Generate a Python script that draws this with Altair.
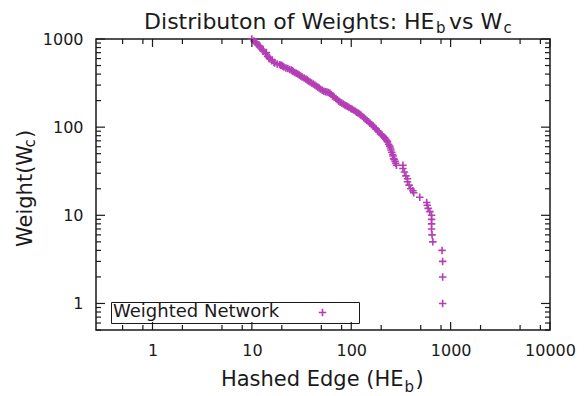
import altair as alt
import pandas as pd

# ---------------- data ----------------
hashed_edge = [10, 10.5, 11, 11, 11.5, 12, 12, 12.5, 13, 13, 13.7, 14, 14.4, 15, 15, 15.8, 16, 16.7,
               17, 18, 19, 19.5, 20, 20.5, 21, 22, 23, 24, 25, 25.5, 26, 27, 28, 29, 30, 31,
               32, 33.5, 35, 36, 37, 38.5, 40, 41.5, 43, 44.5, 46, 47.5, 49, 51, 53, 55, 57, 59,
               61, 63, 65, 67.5, 70, 72.5, 75, 77.5, 80, 83, 86, 89, 92, 95, 99, 102, 106, 110,
               113, 117, 121, 125, 130, 134, 139, 144, 149, 154, 160, 166, 172, 178, 184, 190,
               197, 204, 211, 217, 223, 228, 232, 238, 244, 248, 251, 256, 261, 264, 267, 271,
               276, 280, 285,
               331, 331, 343, 355, 368, 368, 382, 397, 417, 425, 489, 574, 582, 594, 618,
               643, 643, 643, 643, 650, 662, 820, 831, 831, 831]
weight = [1000, 950, 924, 900, 855, 833, 810, 770, 750, 725, 680, 702, 636, 616, 597, 566, 577, 545,
          533, 522, 512, 505, 500, 492, 481, 470, 462, 452, 444, 436, 427, 418, 410, 400, 390, 380,
          370, 360, 351, 342, 333, 325, 316, 308, 300, 292, 285, 278, 270, 263, 256, 252, 250, 247,
          243, 234, 225, 218, 211, 204, 197, 192, 188, 183, 178, 175, 171, 167, 163, 160, 156, 152,
          148, 145, 141, 137, 132, 128, 123, 119, 115, 111, 107, 103, 99, 95, 91, 88,
          84, 81, 78, 76, 73, 70, 68, 64, 61, 58, 55, 52, 49, 47, 44, 43,
          41, 39, 37,
          37, 34, 31, 28, 26, 24, 22, 20, 19, 18, 16, 14, 13, 12, 11,
          10, 9, 8, 7, 6, 5, 4, 3, 2, 1]
series_name = "Weighted Network"

x_tick_labels = [1, 10, 100, 1000, 10000]
y_tick_labels = [1, 10, 100, 1000]
x_domain = [0.27, 10000]
y_domain = [0.5, 1000]

x_minor = [m * d for d in (0.1, 1, 10, 100, 1000) for m in (2, 5, 8)]
x_minor = [v for v in x_minor if x_domain[0] <= v <= x_domain[1]]
y_minor = [m * d for d in (0.1, 1, 10, 100) for m in range(2, 10)]
y_minor = [v for v in y_minor if y_domain[0] <= v <= y_domain[1]]

# ---------------- styling ----------------
W, H = 454, 291
PURPLE = "#b53db5"
INK = "#1a1a1a"
FONT = "DejaVu Sans"
PLUS = "M-1,0L1,0M0,-1L0,1"
# same plus for the legend key; the trailing move-to only widens the key box
LEGEND_PLUS = "M-1,0L1,0M0,-1L0,1M8.2,0"

df = pd.DataFrame({"he": hashed_edge, "w": weight, "series": [series_name] * len(weight)})

xs = alt.Scale(type="log", domain=x_domain, nice=False)
ys = alt.Scale(type="log", domain=y_domain, nice=False)
x_axis = alt.Axis(values=x_tick_labels, format="d", title=None, grid=False, domain=False,
                  ticks=False, labelPadding=12, labelFontSize=16, labelFont=FONT,
                  labelColor=INK, labelFlush=False)
y_axis = alt.Axis(values=y_tick_labels, format="d", title=None, grid=False, domain=False,
                  ticks=False, labelPadding=13, labelFontSize=16, labelFont=FONT,
                  labelColor=INK, labelFlush=False)

points = alt.Chart(df).mark_point(
    shape=PLUS, filled=False, size=56, strokeWidth=1.6, opacity=1
).encode(
    x=alt.X("he:Q", scale=xs, axis=x_axis),
    y=alt.Y("w:Q", scale=ys, axis=y_axis),
    color=alt.Color("series:N", scale=alt.Scale(range=[PURPLE]), legend=alt.Legend(
        orient="none", legendX=15, legendY=263,
        title=series_name, titleOrient="left", titlePadding=34,
        titleFontSize=18, titleFont=FONT, titleFontWeight="normal", titleColor=INK,
        titleLimit=400, strokeColor=INK, padding=2,
        symbolType=LEGEND_PLUS, symbolSize=56, symbolStrokeWidth=1.6, symbolOffset=0,
        labelOffset=0, labelExpr="''", labelFont=FONT, labelFontSize=17,
        labelColor=INK)),
)


def tick_layer(values, axis, length, at_end):
    d = pd.DataFrame({"v": values})
    base = alt.Chart(d).mark_rule(color=INK, strokeWidth=1.2)
    if axis == "x":
        enc = dict(x=alt.X("v:Q", scale=xs, axis=x_axis))
        if at_end:
            return base.encode(y=alt.value(H), y2=alt.value(H - length), **enc)
        return base.encode(y=alt.value(0), y2=alt.value(length), **enc)
    enc = dict(y=alt.Y("v:Q", scale=ys, axis=y_axis))
    if at_end:
        return base.encode(x=alt.value(W), x2=alt.value(W - length), **enc)
    return base.encode(x=alt.value(0), x2=alt.value(length), **enc)


ticks = [
    tick_layer(x_tick_labels, "x", 8, True), tick_layer(x_tick_labels, "x", 8, False),
    tick_layer(x_minor, "x", 5, True), tick_layer(x_minor, "x", 5, False),
    tick_layer(y_tick_labels, "y", 9, False), tick_layer(y_tick_labels, "y", 9, True),
    tick_layer(y_minor, "y", 5, False), tick_layer(y_minor, "y", 5, True),
]


def label(text, x, y, size, align="left", angle=0):
    return alt.Chart(pd.DataFrame({"k": [0]})).mark_text(
        align=align, baseline="alphabetic", fontSize=size, font=FONT, color=INK, angle=angle
    ).encode(x=alt.value(x), y=alt.value(y), text=alt.value(text))


texts = [
    # title
    label("Distributon of Weights: HE", 338.5, -10, 22, "right"),
    label("b", 340, -6, 15),
    label("vs W", 353, -10, 22),
    label("c", 407.5, -6, 15),
    # x axis title
    label("Hashed Edge (HE", 307.5, 347, 21, "right"),
    label("b", 308.5, 352.5, 15),
    label(")", 319.5, 347, 21),
    # y axis title
    label("Weight(W", -64, 208, 21, "left", 270),
    label("c", -61, 108.5, 15, "left", 270),
    label(")", -64, 99, 21, "left", 270),
]

chart = alt.layer(points, *ticks, *texts).properties(
    width=W, height=H,
    autosize=alt.AutoSizeParams(type="none"),
    padding={"left": 96, "top": 39, "right": 36, "bottom": 66},
).configure(font=FONT).configure_view(stroke=INK, strokeWidth=1.5)

chart.save("out.html", embed_options={"renderer": "svg", "actions": False})
